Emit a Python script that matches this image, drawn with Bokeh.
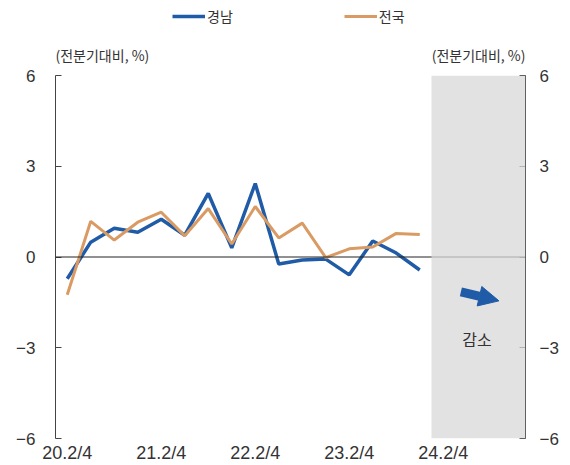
from bokeh.plotting import figure
from bokeh.layouts import column
from bokeh.models import (Range1d, LinearAxis, FixedTicker, Span, BoxAnnotation,
                          Label, Legend, LegendItem, Arrow, NormalHead)
from bokeh.embed import file_html
from bokeh.resources import INLINE

quarters = ["20.2/4", "20.3/4", "20.4/4", "21.1/4", "21.2/4", "21.3/4", "21.4/4",
            "22.1/4", "22.2/4", "22.3/4", "22.4/4", "23.1/4", "23.2/4", "23.3/4",
            "23.4/4", "24.1/4"]
gyeongnam = [-0.72, 0.49, 0.95, 0.82, 1.25, 0.72, 2.10, 0.30, 2.43, -0.23,
             -0.10, -0.07, -0.59, 0.53, 0.13, -0.43]
national = [-1.25, 1.18, 0.56, 1.15, 1.48, 0.70, 1.60, 0.43, 1.67, 0.63,
            1.12, -0.02, 0.27, 0.33, 0.78, 0.74]
forecast_quarters = ["24.2/4", "24.3/4", "24.4/4", "25.1/4"]
xtick_labels = ["20.2/4", "21.2/4", "22.2/4", "23.2/4", "24.2/4"]
ytick_values = [-6, -3, 0, 3, 6]
ytick_labels = ["\u22126", "\u22123", "0", "3", "6"]
series_names = ["경남", "전국"]
unit_text = "(전분기대비, %)"
forecast_text = "감소"

all_q = quarters + forecast_quarters
idx = list(range(len(quarters)))

FONT = "Noto Sans CJK KR"
NUMFONT = "Liberation Sans"
BLUE = "#1F5BA6"
ORANGE = "#D99B63"
TXT = "#333333"
W = 562
TOP_H = 65
MAIN_H = 465 - TOP_H
BL, BR = 55, 37

xr = Range1d(-0.5, len(all_q) - 0.5)

# ---------- header strip: legend + unit titles ----------
top = figure(width=W, height=TOP_H, output_backend="svg", toolbar_location=None,
             x_range=xr, y_range=Range1d(0, TOP_H),
             x_axis_location=None, y_axis_location=None, outline_line_color=None,
             min_border_left=BL, min_border_right=BR, min_border_top=0, min_border_bottom=0)
top.grid.visible = False
# legend proxies (hidden; only their legend swatches are shown)
l1 = top.line(idx, gyeongnam, line_color=BLUE, line_width=3.5, visible=False)
l2 = top.line(idx, national, line_color=ORANGE, line_width=3, visible=False)
legend = Legend(items=[LegendItem(label=series_names[0], renderers=[l1]),
                       LegendItem(label=series_names[1], renderers=[l2])],
                orientation="horizontal", location=(117, 39), spacing=111,
                glyph_width=33, glyph_height=16, label_standoff=2, padding=0, margin=0,
                border_line_color=None, background_fill_alpha=0, inactive_fill_alpha=0,
                label_text_font=FONT, label_text_font_size="14px", label_text_color=TXT)
top.add_layout(legend, "center")
top.add_layout(Label(x=-0.5, y=11, text=unit_text, text_font=FONT, text_font_size="14px",
                     text_color=TXT, text_align="left", text_baseline="middle"))
top.add_layout(Label(x=len(all_q) - 0.5, y=11, text=unit_text, text_font=FONT,
                     text_font_size="14px", text_color=TXT, text_align="right",
                     text_baseline="middle"))

# ---------- main chart ----------
p = figure(width=W, height=MAIN_H, output_backend="svg", toolbar_location=None,
           x_range=xr, y_range=Range1d(-6, 6),
           min_border_left=BL, min_border_right=BR, min_border_top=10,
           min_border_bottom=25, y_axis_location=None, outline_line_color=None)
p.grid.visible = False

p.add_layout(Span(location=0, dimension="width", line_color="#222222", line_width=1))
p.add_layout(BoxAnnotation(left=len(quarters) - 0.5, right=len(all_q) - 0.5,
                           fill_color="#D8D8D8", fill_alpha=0.75, line_color=None))

r1 = p.line(idx, gyeongnam, line_color=BLUE, line_width=3.5)
r2 = p.line(idx, national, line_color=ORANGE, line_width=3)

def style_y(ax):
    ax.ticker = FixedTicker(ticks=ytick_values)
    ax.major_label_overrides = {v: l for v, l in zip(ytick_values, ytick_labels)}
    ax.major_tick_in = 6
    ax.major_tick_out = 0
    ax.minor_tick_line_color = None
    ax.axis_line_color = "#444444"
    ax.major_tick_line_color = "#444444"
    ax.major_label_text_font = NUMFONT
    ax.major_label_text_font_size = "17px"
    ax.major_label_text_color = TXT

yl = LinearAxis()
style_y(yl)
yl.major_label_standoff = 20
p.add_layout(yl, "left")
yr = LinearAxis()
style_y(yr)
yr.major_label_standoff = 14
p.add_layout(yr, "right")

xa = p.xaxis[0]
tick_pos = [all_q.index(t) for t in xtick_labels]
xa.ticker = FixedTicker(ticks=tick_pos)
xa.major_label_overrides = {i: l for i, l in zip(tick_pos, xtick_labels)}
xa.axis_line_color = None
xa.major_tick_line_color = None
xa.minor_tick_line_color = None
xa.major_tick_in = 0
xa.major_tick_out = 0
xa.major_label_standoff = 4
xa.major_label_text_font = NUMFONT
xa.major_label_text_font_size = "18px"
xa.major_label_text_color = TXT

p.add_layout(Arrow(x_start=16.75, y_start=-1.15, x_end=18.37, y_end=-1.45,
                   line_color=BLUE, line_width=9,
                   end=NormalHead(size=20, fill_color=BLUE, line_color=BLUE)))
p.add_layout(Label(x=17.44, y=-2.7, text=forecast_text, text_font=FONT,
                   text_font_size="16px", text_color=TXT,
                   text_align="center", text_baseline="middle"))

layout = column(top, p, spacing=0)
open("out.html", "w").write(file_html(layout, INLINE))
